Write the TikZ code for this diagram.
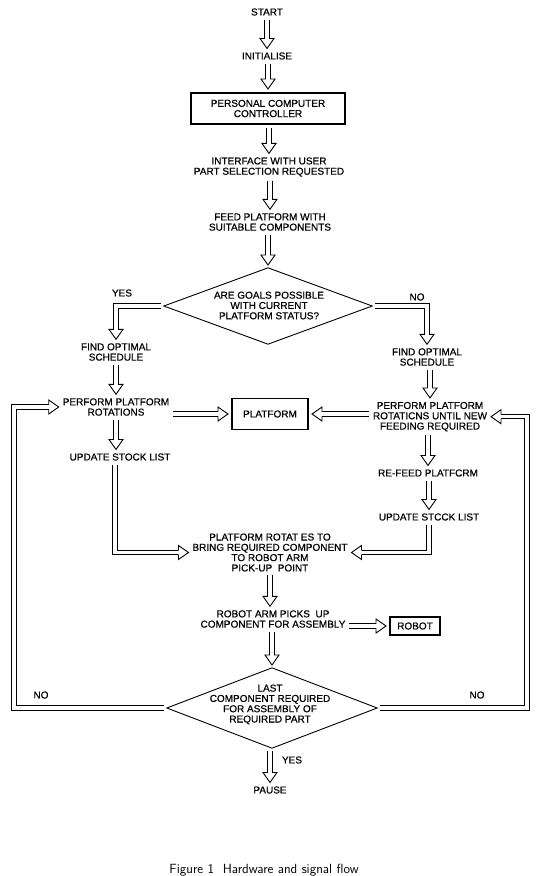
\documentclass[tikz,border=0pt]{standalone}
\usepackage{fontspec}
\setmainfont{Liberation Sans}
\newfontfamily\heavy{Liberation Sans}[FakeBold=0.6]
\usetikzlibrary{shapes.geometric,calc}
\newcommand\shaft[1]{\draw[shaftout] #1; \draw[shaftin] #1;}
\newcommand\dn[2]{\shaft{(#2.north |- #1.south) -- ($(#2.north)+(0,-9.5)$)} \pic[rotate=-90] at (#2.north) {ahead};}
\newcommand\dns[2]{\shaft{(#1.south) -- ($(#1.south |- #2.north)+(0,-9.5)$)} \pic[rotate=-90] at (#1.south |- #2.north) {ahead};}
\tikzset{
  txt/.style={font=\heavy\fontsize{10}{10.3}\selectfont, align=center, inner sep=0pt, outer sep=4pt},
  box/.style={txt, draw, line width=1.6pt},
  dia/.style={draw, shape=diamond, line width=0.9pt, inner sep=0pt, outer sep=2pt},
  shaftout/.style={draw=black, line width=5.4pt, line join=miter},
  shaftin/.style={draw=white, line width=3.2pt, line join=miter},
  ahead/.pic={
    \fill[white] (0,0) -- (-10,7) -- (-10,-7) -- cycle;
    \draw[line width=0.9pt, line join=miter] (-10,2.15) -- (-10,7) -- (0,0) -- (-10,-7) -- (-10,-2.15);
  }
}
\begin{document}
\begin{tikzpicture}[x=1pt,y=-1pt]
\fill[white] (0,0) rectangle (537,876);
\useasboundingbox (0,0) rectangle (537,876);
% nodes
\node[txt] (start) at (267,12) {START};
\node[txt] (init) at (267,56) {INITIALISE};
\node[box, minimum width=154pt, minimum height=31pt] (pc) at (268,108.5) {PERSONAL COMPUTER\\CONTROLLER};
\node[txt] (iface) at (269,167) {INTERFACE WITH USER\\PART SELECTION REQUESTED};
\node[txt] (feed) at (270,222) {FEED PLATFORM WITH\\SUITABLE COMPONENTS};
\node[dia, minimum width=210pt, minimum height=78pt] (d1) at (268,306) {};
\node[txt] (d1t) at (269,305.5) {ARE GOALS POSSIBLE\\WITH CURRENT\\PLATFORM STATUS?};
\node[txt] (yes1) at (122,293) {YES};
\node[txt] (no1) at (417,297) {NO};
\node[txt] (findL) at (116,352) {FIND OPTIMAL\\SCHEDULE};
\node[txt] (perfL) at (116,407) {PERFORM PLATFORM\\ROTATIONS};
\node[txt] (updL) at (120,457) {UPDATE STOCK LIST};
\node[txt] (findR) at (427,357) {FIND OPTIMAL\\SCHEDULE};
\node[txt] (perfR) at (430,416.7) {PERFORM PLATFORM\\ROTATICNS UNTIL NEW\\FEEDING REQUIRED};
\node[txt] (refeed) at (428,473) {RE-FEED PLATFCRM};
\node[txt] (updR) at (429,517) {UPDATE STCCK LIST};
\node[box, minimum width=76pt, minimum height=31pt] (plat) at (270,414) {PLATFORM};
\node[txt] (rot) at (270,552.5) {PLATFORM ROTAT ES TO\\BRING REQUIRED COMPONENT\\TO ROBOT ARM\\PICK-UP\ \ POINT};
\node[txt] (robtxt) at (273,619) {ROBOT ARM PICKS\ \ UP\\COMPONENT FOR ASSEMBLY};
\node[box, minimum width=50pt, minimum height=18pt] (robot) at (415,626) {ROBOT};
\node[dia, minimum width=212pt, minimum height=82pt] (d2) at (272,708) {};
\node[txt] (d2t) at (270,704.5) {LAST\\COMPONENT REQUIRED\\FOR ASSEMBLY OF\\REQUIRED PART};
\node[txt] (noL) at (41,695) {NO};
\node[txt] (noR) at (477,695) {NO};
\node[txt] (yes2) at (292,760) {YES};
\node[txt] (pause) at (270,790) {PAUSE};
\node[font=\sffamily\fontsize{13.3}{15}\selectfont, anchor=base, inner sep=0pt] (caption) at (264,873) {Figure 1\ \ Hardware and signal flow};
\coordinate (lx) at (14,560);
\coordinate (rx) at (527,560);
% straight down arrows
\dns{start}{init}
\dn{init}{pc}
\dn{pc}{iface}
\dn{iface}{feed}
\dn{feed}{d1}
\dns{findL}{perfL}
\dns{perfL}{updL}
\dn{findR}{perfR}
\dn{perfR}{refeed}
\dn{refeed}{updR}
\dns{rot}{robtxt}
\dn{robtxt}{d2}
\dn{d2}{pause}
% branches
\shaft{(d1.west) -| ($(findL.north)+(0,-9.5)$)} \pic[rotate=-90] at (findL.north) {ahead};
\shaft{(d1.east) -| ($(findR.north)+(0,-9.5)$)} \pic[rotate=-90] at (findR.north) {ahead};
\shaft{($(updL.south)+(-5,0)$) |- ($(rot.west)+(-9.5,0)$)} \pic at (rot.west) {ahead};
\shaft{(updR.south) |- ($(rot.east)+(9.5,0)$)} \pic[rotate=180] at (rot.east) {ahead};
\shaft{(perfL.east |- plat.west) -- ($(plat.west)+(-9.5,0)$)} \pic at (plat.west) {ahead};
\shaft{(perfR.west |- plat.east) -- ($(plat.east)+(9.5,0)$)} \pic[rotate=180] at (plat.east) {ahead};
\shaft{(robtxt.east |- robot.west) -- ($(robot.west)+(-9.5,0)$)} \pic at (robot.west) {ahead};
\shaft{(d2.west) -| (lx) |- ($(perfL.west)+(-9.5,0)$)} \pic at (perfL.west) {ahead};
\shaft{(d2.east) -| (rx) |- ($(perfR.east)+(9.5,0)$)} \pic[rotate=180] at (perfR.east) {ahead};
\end{tikzpicture}
\end{document}
